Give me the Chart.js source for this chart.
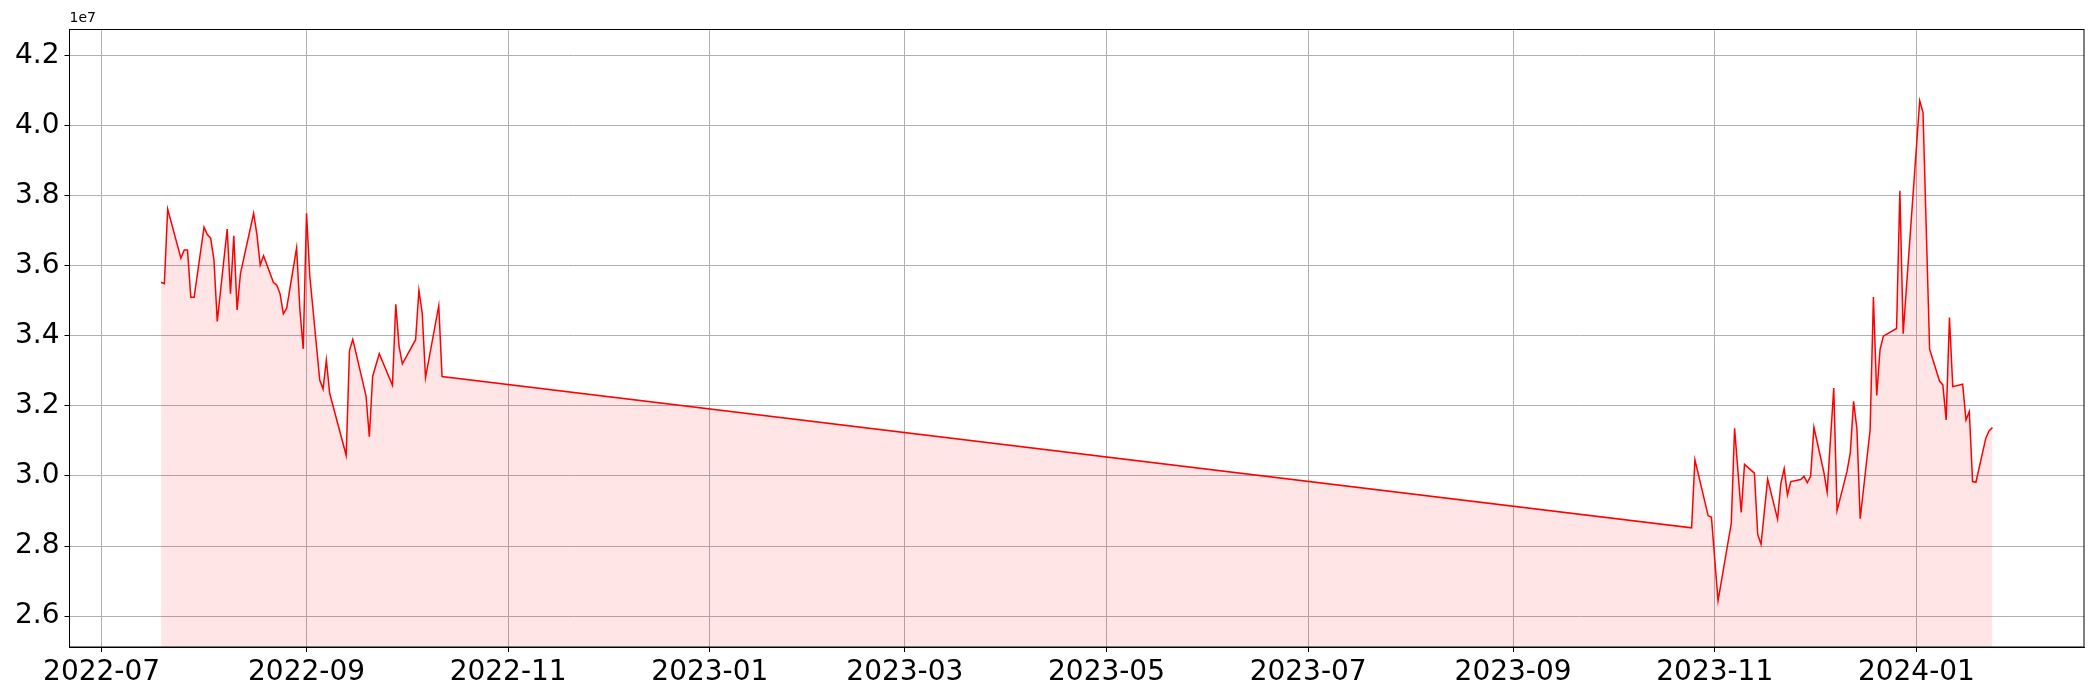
<!DOCTYPE html>
<html>
<head>
<meta charset="utf-8">
<script src="https://cdn.jsdelivr.net/npm/chart.js"></script>
<style>
  html, body { margin: 0; padding: 0; background: #fff; }
</style>
</head>
<body>
<canvas id="myCanvas" width="2100" height="700"></canvas>
<script>
// daily closes (unit 1)
const dates = [
  "2022-07-19", "2022-07-20", "2022-07-21", "2022-07-25", "2022-07-26", "2022-07-27", "2022-07-28", "2022-07-29",
  "2022-08-01", "2022-08-02", "2022-08-03", "2022-08-04", "2022-08-05", "2022-08-08", "2022-08-09", "2022-08-10",
  "2022-08-11", "2022-08-12", "2022-08-16", "2022-08-17", "2022-08-18", "2022-08-19", "2022-08-22", "2022-08-23",
  "2022-08-24", "2022-08-25", "2022-08-26", "2022-08-29", "2022-08-30", "2022-08-31", "2022-09-01", "2022-09-02",
  "2022-09-05", "2022-09-06", "2022-09-07", "2022-09-08", "2022-09-13", "2022-09-14", "2022-09-15", "2022-09-19",
  "2022-09-20", "2022-09-21", "2022-09-23", "2022-09-27", "2022-09-28", "2022-09-29", "2022-09-30", "2022-10-04",
  "2022-10-05", "2022-10-06", "2022-10-07", "2022-10-11", "2022-10-12",
  "2023-10-25", "2023-10-26", "2023-10-30", "2023-10-31", "2023-11-02", "2023-11-06", "2023-11-07", "2023-11-09",
  "2023-11-10", "2023-11-13", "2023-11-14", "2023-11-15", "2023-11-17", "2023-11-20", "2023-11-21", "2023-11-22",
  "2023-11-23", "2023-11-24", "2023-11-27", "2023-11-28", "2023-11-29", "2023-11-30", "2023-12-01", "2023-12-04",
  "2023-12-05", "2023-12-07", "2023-12-08", "2023-12-11", "2023-12-12", "2023-12-13", "2023-12-14", "2023-12-15",
  "2023-12-18", "2023-12-19", "2023-12-20", "2023-12-21", "2023-12-22", "2023-12-26", "2023-12-27", "2023-12-28",
  "2024-01-02", "2024-01-03", "2024-01-05", "2024-01-08", "2024-01-09", "2024-01-10", "2024-01-11", "2024-01-12",
  "2024-01-15", "2024-01-16", "2024-01-17", "2024-01-18", "2024-01-19", "2024-01-22", "2024-01-23", "2024-01-24"
];
const prices = [
  3.553e7, 3.549e7, 3.762e7, 3.622e7, 3.645e7, 3.645e7, 3.510e7, 3.510e7,
  3.710e7, 3.689e7, 3.679e7, 3.617e7, 3.441e7, 3.705e7, 3.520e7, 3.686e7,
  3.474e7, 3.577e7, 3.750e7, 3.689e7, 3.602e7, 3.629e7, 3.552e7, 3.545e7,
  3.520e7, 3.463e7, 3.479e7, 3.651e7, 3.474e7, 3.363e7, 3.750e7, 3.570e7,
  3.274e7, 3.248e7, 3.331e7, 3.236e7, 3.059e7, 3.358e7, 3.390e7, 3.229e7,
  3.112e7, 3.284e7, 3.349e7, 3.259e7, 3.490e7, 3.370e7, 3.320e7, 3.389e7,
  3.530e7, 3.465e7, 3.281e7, 3.486e7, 3.284e7,
  2.852e7, 3.046e7, 2.887e7, 2.882e7, 2.644e7, 2.865e7, 3.136e7, 2.896e7,
  3.033e7, 3.008e7, 2.833e7, 2.805e7, 2.991e7, 2.877e7, 2.979e7, 3.021e7,
  2.946e7, 2.984e7, 2.990e7, 2.999e7, 2.981e7, 2.999e7, 3.139e7, 3.011e7,
  2.954e7, 3.251e7, 2.901e7, 3.013e7, 3.066e7, 3.213e7, 3.135e7, 2.878e7,
  3.132e7, 3.511e7, 3.230e7, 3.361e7, 3.399e7, 3.421e7, 3.814e7, 3.406e7,
  4.071e7, 4.038e7, 3.362e7, 3.271e7, 3.260e7, 3.160e7, 3.452e7, 3.255e7,
  3.262e7, 3.160e7, 3.184e7, 2.984e7, 2.982e7, 3.108e7, 3.129e7, 3.138e7
];
const xTickLabels = ["2022-07", "2022-09", "2022-11", "2023-01", "2023-03", "2023-05", "2023-07", "2023-09", "2023-11", "2024-01"];
const yTickValues = [2.6e7, 2.8e7, 3.0e7, 3.2e7, 3.4e7, 3.6e7, 3.8e7, 4.0e7, 4.2e7];

function toDay(s) {
  const parts = s.split("-");
  return Date.UTC(+parts[0], +parts[1] - 1, parts[2] ? +parts[2] : 1) / 864e5;
}

const points = dates.map((d, i) => ({ x: toDay(d), y: prices[i] }));

// matplotlib-like limits: 5% margin on dates, ylim(min*0.95, max*1.05)
const firstDay = points[0].x;
const lastDay = points[points.length - 1].x;
const span = lastDay - firstDay;
const yLow = Math.min(...prices) * 0.95;
const yHigh = Math.max(...prices) * 1.05;

const tickFont = { family: "DejaVu Sans", size: 28 };

const frameAndOffset = {
  id: "frameAndOffset",
  afterDraw(chart) {
    const { ctx, chartArea } = chart;
    ctx.save();
    ctx.strokeStyle = "#000";
    ctx.lineWidth = 1;
    ctx.strokeRect(chartArea.left, chartArea.top, chartArea.right - chartArea.left, chartArea.bottom - chartArea.top);
    ctx.fillStyle = "#000";
    ctx.font = '14px "DejaVu Sans"';
    ctx.textBaseline = "bottom";
    ctx.textAlign = "left";
    ctx.fillText("1e7", chartArea.left, chartArea.top - 4);
    ctx.restore();
  }
};

new Chart(document.getElementById("myCanvas").getContext("2d"), {
  type: "line",
  data: {
    datasets: [
      {
        data: points,
        borderColor: "#ff0000",
        backgroundColor: "rgba(255, 0, 0, 0.1)",
        borderWidth: 1.5,
        pointRadius: 0,
        tension: 0,
        fill: "start",
      },
    ],
  },
  options: {
    responsive: false,
    animation: false,
    layout: { padding: { top: 29.5, right: 16, left: 0, bottom: 0 } },
    plugins: { legend: { display: false }, tooltip: { enabled: false } },
    scales: {
      x: {
        type: "linear",
        min: firstDay - span * 0.05,
        max: lastDay + span * 0.05,
        afterBuildTicks: (scale) => {
          scale.ticks = xTickLabels.map((l) => ({ value: toDay(l) }));
        },
        afterFit: (scale) => {
          scale.height = 53;
        },
        ticks: {
          autoSkip: false,
          maxRotation: 0,
          padding: 4,
          color: "#000",
          font: tickFont,
          callback: (value, index) => xTickLabels[index],
        },
        grid: { color: "#b0b0b0", lineWidth: 1, tickColor: "#000", tickLength: 5 },
        border: { color: "#000", width: 1 },
      },
      y: {
        min: yLow,
        max: yHigh,
        afterBuildTicks: (scale) => {
          scale.ticks = yTickValues.map((v) => ({ value: v }));
        },
        afterFit: (scale) => {
          scale.width = 69.5;
        },
        ticks: {
          padding: 5,
          color: "#000",
          font: tickFont,
          callback: (value) => (value / 1e7).toFixed(1),
        },
        grid: { color: "#b0b0b0", lineWidth: 1, tickColor: "#000", tickLength: 5 },
        border: { color: "#000", width: 1 },
      },
    },
  },
  plugins: [frameAndOffset],
});
</script>
</body>
</html>
